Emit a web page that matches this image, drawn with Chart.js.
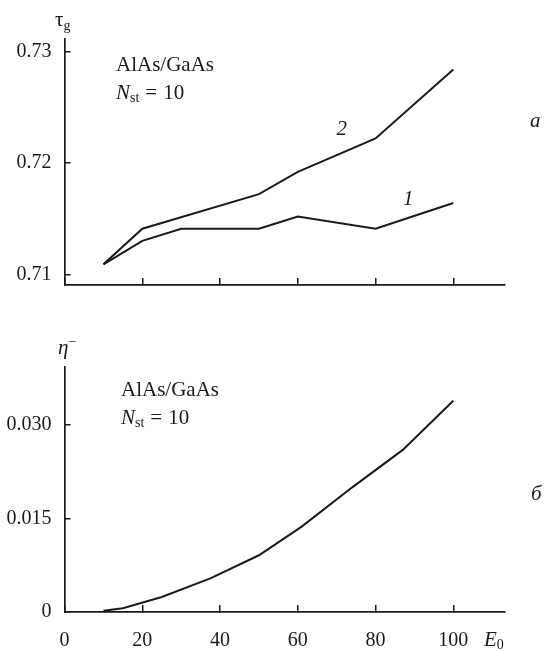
<!DOCTYPE html>
<html>
<head>
<meta charset="utf-8">
<script src="https://cdn.jsdelivr.net/npm/chart.js@4.4.1/dist/chart.umd.min.js"></script>
<style>
    html, body { margin: 0; padding: 0; background: #fff; }
    #wrap { position: relative; width: 549px; height: 651px; }
    .box { position: absolute; left: 0; width: 549px; }
</style>
</head>
<body>
<div id="wrap">
    <div class="box" style="top:0;height:300px"><canvas id="chartA"></canvas></div>
    <div class="box" style="top:300px;height:351px"><canvas id="chartB"></canvas></div>
</div>
<script>
// Data
const xTicks = [0, 20, 40, 60, 80, 100];
const tauTicks = [0.71, 0.72, 0.73];
const etaTicks = [0, 0.015, 0.030];

// panel a: tau_g vs E0, curves 1 and 2
const energy1 = [10, 20, 30, 50, 60, 80, 100];
const tau1 = [0.7109, 0.7130, 0.7141, 0.7141, 0.7152, 0.7141, 0.7164];
const energy2 = [10, 20, 50, 60, 80, 100];
const tau2 = [0.7109, 0.7141, 0.7172, 0.7192, 0.7222, 0.7284];

// panel b: eta^- vs E0
const energyB = [10, 15, 25, 37.5, 50, 61, 74, 87, 100];
const etaMinus = [0.0002, 0.0006, 0.0024, 0.0054, 0.0091, 0.0137, 0.0200, 0.0260, 0.0339];

const ink = '#1a1a1a';
const serif = '"Liberation Serif", "DejaVu Serif", serif';
const F = (style, size) => `${style} ${size}px ${serif}`;

function pts(xs, ys) {
    return xs.map((x, i) => ({ x: x, y: ys[i] }));
}

function drawRuns(ctx, x, y, runs) {
    runs.forEach(r => {
        ctx.font = r.font;
        ctx.fillText(r.text, x, y + (r.dy || 0));
        x += ctx.measureText(r.text).width + (r.gap || 0);
    });
}

// text in the plot: axis names, material label, curve numbers, panel letters
const annotations = {
    id: 'annotations',
    afterDraw(chart, args, opts) {
        const ctx = chart.ctx;
        ctx.save();
        ctx.fillStyle = ink;
        ctx.textAlign = 'left';
        ctx.textBaseline = 'middle';
        (opts.items || []).forEach(it => drawRuns(ctx, it.x, it.y, it.runs));
        (opts.curveLabels || []).forEach(l => {
            ctx.font = F('italic', 21);
            ctx.textAlign = 'center';
            ctx.fillText(l.text, chart.scales.x.getPixelForValue(l.at[0]), chart.scales.y.getPixelForValue(l.at[1]));
        });
        ctx.restore();
    }
};

function material(x, y) {
    return [
        { x: x, y: y, runs: [{ text: 'AlAs/GaAs', font: F('normal', 21) }] },
        { x: x, y: y + 28, runs: [
            { text: 'N', font: F('italic', 21) },
            { text: 'st', font: F('normal', 14), dy: 5, gap: 6 },
            { text: '=', font: F('normal', 21), gap: 6 },
            { text: '10', font: F('normal', 21) }
        ] }
    ];
}

function axisStyle(tl) {
    return {
        grid: { drawOnChartArea: false, drawTicks: true, tickLength: tl, color: ink, lineWidth: 1.5 },
        border: { display: true, color: ink, width: 1.7 }
    };
}

// fixed y-axis width, and no extra room for the end labels
function fitY(s) {
    s.width = 64.6;
    s.paddingTop = 0;
    s.paddingBottom = 0;
}

function lineSet(data) {
    return {
        data: data,
        borderColor: ink,
        borderWidth: 2,
        pointRadius: 0,
        tension: 0,
        fill: false
    };
}

const common = {
    responsive: true,
    maintainAspectRatio: false,
    animation: false,
    devicePixelRatio: 1,
    events: [],
    plugins: { legend: { display: false }, tooltip: { enabled: false } }
};

// Chart.js - panel a
new Chart(document.getElementById('chartA'), {
    type: 'line',
    data: {
        datasets: [lineSet(pts(energy1, tau1)), lineSet(pts(energy2, tau2))]
    },
    options: {
        ...common,
        layout: { padding: { top: 39, right: 44, left: 0, bottom: 0 } },
        scales: {
            x: {
                type: 'linear',
                min: 0,
                max: 113.3,
                afterBuildTicks: s => { s.ticks = xTicks.map(v => ({ value: v })); },
                afterFit: s => { s.height = 15; },
                ticks: { display: false },
                ...axisStyle(-7)
            },
            y: {
                type: 'linear',
                min: 0.70904,
                max: 0.73114,
                afterBuildTicks: s => { s.ticks = tauTicks.map(v => ({ value: v })); },
                afterFit: fitY,
                ticks: {
                    color: ink,
                    font: { family: serif, size: 20 },
                    padding: 19,
                    callback: v => v.toFixed(2)
                },
                ...axisStyle(-6)
            }
        },
        plugins: {
            ...common.plugins,
            annotations: {
                items: [
                    { x: 55, y: 20, runs: [
                        { text: 'τ', font: F('normal', 21) },
                        { text: 'g', font: F('normal', 14), dy: 6 }
                    ] },
                    ...material(116, 65),
                    { x: 530, y: 121, runs: [{ text: 'a', font: F('italic', 21) }] }
                ],
                curveLabels: [
                    { text: '2', at: [71.3, 0.7230] },
                    { text: '1', at: [88.4, 0.7167] }
                ]
            }
        }
    },
    plugins: [annotations]
});

// Chart.js - panel b
new Chart(document.getElementById('chartB'), {
    type: 'line',
    data: {
        datasets: [lineSet(pts(energyB, etaMinus))]
    },
    options: {
        ...common,
        layout: { padding: { top: 66.7, right: 44, left: 0, bottom: 0 } },
        scales: {
            x: {
                type: 'linear',
                min: 0,
                max: 113.3,
                afterBuildTicks: s => { s.ticks = xTicks.map(v => ({ value: v })); },
                afterFit: s => { s.height = 39; },
                ticks: {
                    color: ink,
                    font: { family: serif, size: 20 },
                    padding: 24,
                    maxRotation: 0,
                    autoSkip: false
                },
                ...axisStyle(-7)
            },
            y: {
                type: 'linear',
                min: 0,
                max: 0.03935,
                afterBuildTicks: s => { s.ticks = etaTicks.map(v => ({ value: v })); },
                afterFit: fitY,
                ticks: {
                    color: ink,
                    font: { family: serif, size: 20 },
                    padding: 19,
                    callback: v => (v === 0 ? '0' : v.toFixed(3))
                },
                ...axisStyle(-6)
            }
        },
        plugins: {
            ...common.plugins,
            annotations: {
                items: [
                    { x: 58, y: 48, runs: [
                        { text: 'η', font: F('italic', 21) },
                        { text: '−', font: F('normal', 14), dy: -6 }
                    ] },
                    ...material(121, 90),
                    { x: 531, y: 194, runs: [{ text: 'б', font: F('italic', 21) }] },
                    { x: 484, y: 340, runs: [
                        { text: 'E', font: F('italic', 21) },
                        { text: '0', font: F('normal', 14), dy: 5 }
                    ] }
                ]
            }
        }
    },
    plugins: [annotations]
});
</script>
</body>
</html>
